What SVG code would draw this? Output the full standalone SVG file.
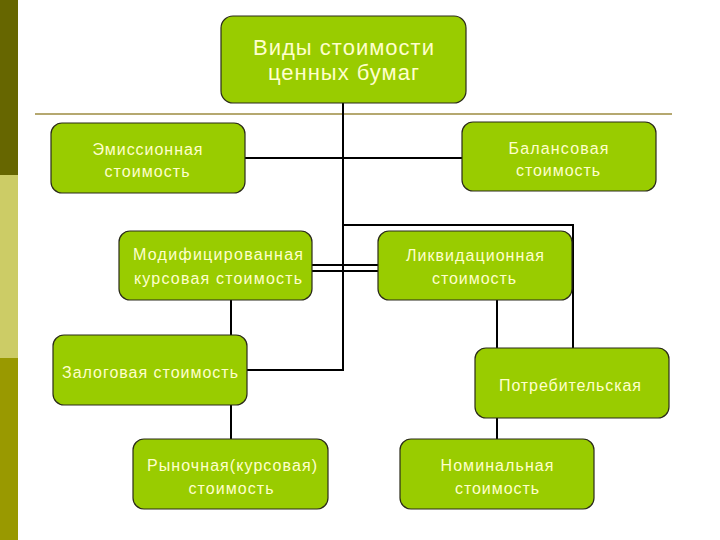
<svg xmlns="http://www.w3.org/2000/svg" width="720" height="540" viewBox="0 0 720 540">
<style>
.n rect{fill:#99cc00;stroke:#2b2b1a;stroke-width:1.2}
.n text{font-family:"Liberation Sans",Arial,sans-serif;font-size:16px;fill:#ffffcc;text-anchor:middle}
.n text.big{font-size:22px}
.c{stroke:#000;stroke-width:2;fill:none}
</style>
<rect width="720" height="540" fill="#fff"/>
<rect x="0" y="0" width="18" height="175" fill="#666600"/>
<rect x="0" y="175" width="18" height="183" fill="#cccc66"/>
<rect x="0" y="358" width="18" height="182" fill="#999900"/>
<line x1="35" y1="114" x2="672" y2="114" stroke="#b5a870" stroke-width="2"/>
<g id="connectors">
<path class="c" d="M343 103V370H247"/>
<path class="c" d="M245 158H462"/>
<path class="c" d="M343 225H573V348"/>
<path class="c" d="M312 265H378M312 271H378"/>
<path class="c" d="M231 300V335M231 405V439"/>
<path class="c" d="M497 300V348M497 418V439"/>
</g>
<g id="n-top" class="n"><rect x="221" y="16" width="245" height="87" rx="12"/>
<text class="big" x="343.5" y="55" textLength="181" lengthAdjust="spacing">Виды стоимости</text><text class="big" x="343.5" y="80" textLength="151" lengthAdjust="spacing">ценных бумаг</text></g>
<g id="n-emis" class="n"><rect x="51" y="123" width="194" height="70" rx="11"/>
<text x="147.5" y="155" textLength="110" lengthAdjust="spacing">Эмиссионная</text><text x="147" y="177" textLength="85" lengthAdjust="spacing">стоимость</text></g>
<g id="n-bal" class="n"><rect x="462" y="122" width="194" height="69" rx="11"/>
<text x="558.5" y="154" textLength="100" lengthAdjust="spacing">Балансовая</text><text x="558" y="176" textLength="84" lengthAdjust="spacing">стоимость</text></g>
<g id="n-mod" class="n"><rect x="119" y="231" width="193" height="69" rx="11"/>
<text x="218" y="260" textLength="170" lengthAdjust="spacing">Модифицированная</text><text x="218" y="284" textLength="168" lengthAdjust="spacing">курсовая стоимость</text></g>
<g id="n-liq" class="n"><rect x="378" y="231" width="194" height="69" rx="11"/>
<text x="475" y="261" textLength="138" lengthAdjust="spacing">Ликвидационная</text><text x="474" y="284" textLength="84" lengthAdjust="spacing">стоимость</text></g>
<g id="n-zal" class="n"><rect x="53" y="335" width="194" height="70" rx="11"/>
<text x="150" y="378" textLength="176" lengthAdjust="spacing">Залоговая стоимость</text></g>
<g id="n-potr" class="n"><rect x="475" y="348" width="194" height="70" rx="11"/>
<text x="570" y="391" textLength="142" lengthAdjust="spacing">Потребительская</text></g>
<g id="n-ryn" class="n"><rect x="133" y="439" width="195" height="70" rx="11"/>
<text x="232" y="471" textLength="170" lengthAdjust="spacing">Рыночная(курсовая)</text><text x="231" y="494" textLength="85" lengthAdjust="spacing">стоимость</text></g>
<g id="n-nom" class="n"><rect x="400" y="439" width="194" height="70" rx="11"/>
<text x="497" y="471" textLength="113" lengthAdjust="spacing">Номинальная</text><text x="497" y="494" textLength="84" lengthAdjust="spacing">стоимость</text></g>
</svg>
